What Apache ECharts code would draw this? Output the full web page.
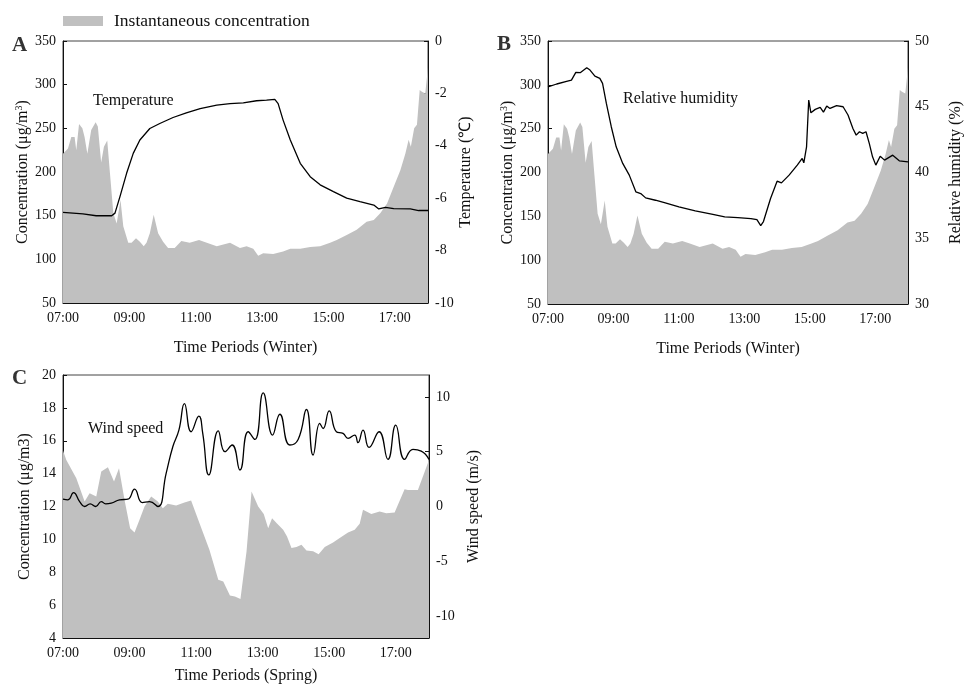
<!DOCTYPE html>
<html>
<head>
<meta charset="utf-8">
<script src="https://cdn.jsdelivr.net/npm/echarts@6/dist/echarts.min.js"></script>
<style>
html, body { margin: 0; padding: 0; background: #fff; }
#chart { width: 965px; height: 685px; }
</style>
</head>
<body>
<div id="chart"></div>
<script>
// minutes after 07:00
const timeTicks = [0, 120, 240, 360, 480, 600];
const timeLabels = ['07:00', '09:00', '11:00', '13:00', '15:00', '17:00'];

// winter concentration (shared by A and B)
const concWinterT = [0, 9, 15, 21, 24, 29, 35, 39, 44, 51, 59, 63, 69, 74, 80, 85, 91, 97, 100, 104, 109, 118, 124, 132, 139, 146, 151, 157, 164, 172, 181, 190, 202, 214, 229, 246, 260, 278, 302, 320, 332, 344, 353, 362, 380, 398, 411, 429, 447, 465, 483, 495, 513, 531, 549, 562, 574, 586, 598, 610, 619, 625, 629, 635, 640, 645, 649, 655, 660];
const concWinter = [221, 227, 240, 240, 225, 255, 250, 240, 221, 248, 257, 252, 211, 229, 236, 198, 153, 141, 139, 168, 138, 119, 119, 124, 120, 115, 119, 130, 151, 130, 120, 113, 113, 121, 119, 122, 119, 115, 119, 113, 115, 112, 104, 107, 106, 109, 112, 112, 114, 115, 119, 122, 128, 134, 143, 145, 153, 164, 183, 202, 221, 237, 229, 250, 254, 294, 292, 290, 320];

const tempT = [0, 36, 60, 88, 94, 103, 115, 127, 139, 157, 175, 199, 223, 248, 278, 302, 326, 350, 368, 383, 389, 398, 411, 429, 447, 465, 489, 513, 537, 562, 571, 583, 598, 628, 643, 660];
const temp = [-6.54, -6.60, -6.67, -6.67, -6.57, -5.94, -5.05, -4.29, -3.78, -3.34, -3.15, -2.92, -2.74, -2.58, -2.45, -2.39, -2.36, -2.28, -2.26, -2.23, -2.39, -3.02, -3.78, -4.67, -5.18, -5.49, -5.75, -6.00, -6.13, -6.26, -6.41, -6.35, -6.40, -6.41, -6.47, -6.47];

const rhT = [0, 16, 34, 43, 51, 59, 71, 77, 86, 95, 100, 107, 116, 125, 137, 149, 161, 170, 179, 197, 215, 240, 270, 300, 324, 348, 372, 383, 390, 395, 408, 420, 428, 442, 457, 466, 469, 474, 478, 482, 490, 499, 505, 511, 517, 529, 541, 550, 559, 565, 571, 577, 583, 589, 595, 601, 609, 617, 632, 644, 660];
const rh = [46.52, 46.73, 46.93, 47.03, 47.61, 47.59, 47.97, 47.79, 47.33, 47.16, 46.78, 45.25, 43.48, 41.95, 40.69, 39.80, 38.53, 38.40, 38.07, 37.89, 37.69, 37.39, 37.08, 36.83, 36.62, 36.57, 36.50, 36.42, 35.96, 36.27, 38.02, 39.34, 39.21, 39.80, 40.56, 41.07, 40.74, 41.95, 45.51, 44.54, 44.80, 44.95, 44.59, 45.05, 44.87, 45.08, 45.00, 44.37, 43.35, 42.84, 43.10, 42.97, 43.10, 42.21, 41.19, 40.56, 41.24, 40.94, 41.32, 40.89, 40.81];

// spring concentration (C)
const concSpringT = [0, 6, 24, 39, 48, 60, 69, 81, 92, 101, 111, 121, 129, 138, 147, 159, 171, 180, 189, 204, 219, 231, 246, 264, 280, 289, 301, 310, 320, 331, 340, 352, 362, 370, 377, 385, 397, 404, 412, 421, 430, 439, 451, 461, 472, 487, 499, 514, 526, 535, 541, 556, 571, 583, 598, 616, 622, 640, 660];
const concSpring = [15.40, 14.83, 13.72, 12.30, 12.81, 12.61, 14.13, 14.39, 13.52, 14.33, 12.40, 10.68, 10.42, 11.19, 12.00, 12.61, 12.30, 11.90, 12.16, 12.06, 12.24, 12.36, 10.99, 9.37, 7.54, 7.44, 6.59, 6.53, 6.37, 9.27, 12.91, 12.00, 11.55, 10.68, 11.29, 10.99, 10.58, 10.18, 9.47, 9.53, 9.67, 9.33, 9.27, 9.10, 9.53, 9.81, 10.08, 10.42, 10.58, 10.95, 11.80, 11.55, 11.70, 11.59, 11.63, 13.05, 13.01, 13.01, 14.83];

const windT = [0, 9, 19, 30, 39, 49, 59, 69, 77, 87, 102, 117, 129, 143, 156, 171, 186, 198, 209, 219, 231, 245, 252, 263, 280, 292, 305, 319, 334, 346, 361, 378, 391, 409, 424, 439, 451, 463, 469, 480, 493, 505, 514, 526, 532, 541, 552, 570, 586, 600, 616, 631, 646, 660];
const wind = [0.67, 0.61, 1.27, 0.45, 0.00, 0.24, 0.00, 0.45, 0.24, 0.30, 0.61, 0.67, 1.58, 0.36, 0.45, 0.00, 3.03, 5.45, 6.97, 9.39, 6.82, 8.24, 6.67, 2.88, 6.91, 5.00, 5.61, 3.33, 6.82, 6.12, 10.36, 6.52, 8.42, 5.61, 6.12, 8.85, 4.70, 7.58, 7.12, 8.73, 6.82, 6.67, 6.21, 6.52, 5.82, 6.97, 5.39, 6.82, 4.30, 7.42, 4.30, 5.21, 5.06, 4.30];

const windTicks = [-10, -5, 0, 5, 10];

const FONT = 'Liberation Serif';
const zip = (t, v) => t.map((x, i) => [x, v[i]]);
const fmtTime = v => timeLabels[timeTicks.indexOf(v)] || '';

function xAxisFor(gridIndex, name, gap) {
    return {
        type: 'value', gridIndex: gridIndex, min: 0, max: 660,
        name: name, nameLocation: 'middle', nameGap: gap,
        nameTextStyle: { fontFamily: FONT, fontSize: 16, color: '#111' },
        axisLine: { onZero: false, lineStyle: { color: '#111' } },
        axisTick: { inside: true, length: 4, customValues: timeTicks, lineStyle: { color: '#111' } },
        axisLabel: { customValues: timeTicks, formatter: fmtTime, fontFamily: FONT, fontSize: 14, color: '#111', margin: 8 },
        splitLine: { show: false }
    };
}

function yAxisFor(gridIndex, pos, min, max, interval, name, gap, rich) {
    const ax = {
        type: 'value', gridIndex: gridIndex, position: pos, min: min, max: max,
        name: name, nameLocation: 'middle', nameGap: gap, nameRotate: 90,
        nameTextStyle: { fontFamily: FONT, fontSize: 16, color: '#111', rich: rich },
        axisLine: { show: true, onZero: false, lineStyle: { color: '#111' } },
        axisTick: { show: true, inside: true, length: 4, lineStyle: { color: '#111' } },
        axisLabel: { fontFamily: FONT, fontSize: 14, color: '#111', margin: 7 },
        splitLine: { show: false }
    };
    if (interval) ax.interval = interval;
    return ax;
}

const supRich = {
    sup: { fontFamily: FONT, fontSize: 10, color: '#111', verticalAlign: 'bottom', padding: [0, 0, 8, 0] }
};

const windAxis = yAxisFor(2, 'right', -12, 12, null, 'Wind speed (m/s)', 37);
windAxis.axisTick.customValues = windTicks;
windAxis.axisLabel.customValues = windTicks;

const areaSeries = (xi, yi, data, name) => ({
    type: 'line', name: name, xAxisIndex: xi, yAxisIndex: yi, data: data,
    showSymbol: false, symbol: 'none', color: '#c0c0c0',
    lineStyle: { width: 0 }, areaStyle: { color: '#c0c0c0', opacity: 1, origin: 'start' }, z: 1
});
const lineSeries = (xi, yi, data, smooth) => ({
    type: 'line', xAxisIndex: xi, yAxisIndex: yi, data: data,
    showSymbol: false, symbol: 'none', smooth: smooth,
    lineStyle: { color: '#000', width: 1.3 }, z: 3
});

const gridBase = { show: true, borderColor: '#444', borderWidth: 1, backgroundColor: 'transparent' };

const option = {
    animation: false,
    backgroundColor: '#fff',
    legend: {
        left: 63, top: 12, padding: 0, itemWidth: 40, itemHeight: 10, itemGap: 10,
        data: [{ name: 'Instantaneous concentration', icon: 'rect' }],
        textStyle: { fontFamily: FONT, fontSize: 17.5, color: '#111', padding: [0, 0, 0, 6] }
    },
    grid: [
        Object.assign({ left: 63, top: 41, width: 365, height: 262 }, gridBase),
        Object.assign({ left: 548, top: 41, width: 364, height: 263 }, gridBase),
        Object.assign({ left: 63, top: 375, width: 366, height: 263 }, gridBase)
    ],
    xAxis: [
        xAxisFor(0, 'Time Periods (Winter)', 37),
        xAxisFor(1, 'Time Periods (Winter)', 37),
        xAxisFor(2, 'Time Periods (Spring)', 30)
    ],
    yAxis: [
        yAxisFor(0, 'left', 50, 350, 50, 'Concentration (μg/m{sup|3})', 30, supRich),
        yAxisFor(0, 'right', -10, 0, 2, 'Temperature (℃)', 30),
        yAxisFor(1, 'left', 50, 350, 50, 'Concentration (μg/m{sup|3})', 30, supRich),
        yAxisFor(1, 'right', 30, 50, 5, 'Relative humidity (%)', 40),
        yAxisFor(2, 'left', 4, 20, 2, 'Concentration (μg/m3)', 30),
        windAxis
    ],
    graphic: [
        { type: 'text', left: 12, top: 35, style: { text: 'A', font: 'bold 21px "Liberation Serif"', fill: '#333' } },
        { type: 'text', left: 497, top: 34, style: { text: 'B', font: 'bold 21px "Liberation Serif"', fill: '#333' } },
        { type: 'text', left: 12, top: 368, style: { text: 'C', font: 'bold 21px "Liberation Serif"', fill: '#333' } },
        { type: 'text', left: 93, top: 93, style: { text: 'Temperature', font: '16px "Liberation Serif"', fill: '#111' } },
        { type: 'text', left: 623, top: 91, style: { text: 'Relative humidity', font: '16px "Liberation Serif"', fill: '#111' } },
        { type: 'text', left: 88, top: 421, style: { text: 'Wind speed', font: '16px "Liberation Serif"', fill: '#111' } }
    ],
    series: [
        areaSeries(0, 0, zip(concWinterT, concWinter), 'Instantaneous concentration'),
        lineSeries(0, 1, zip(tempT, temp), false),
        areaSeries(1, 2, zip(concWinterT, concWinter), 'Instantaneous concentration'),
        lineSeries(1, 3, zip(rhT, rh), false),
        areaSeries(2, 4, zip(concSpringT, concSpring), 'Instantaneous concentration'),
        lineSeries(2, 5, zip(windT, wind), 0.5)
    ]
};

const chart = echarts.init(document.getElementById('chart'));
chart.setOption(option);
</script>
</body>
</html>
